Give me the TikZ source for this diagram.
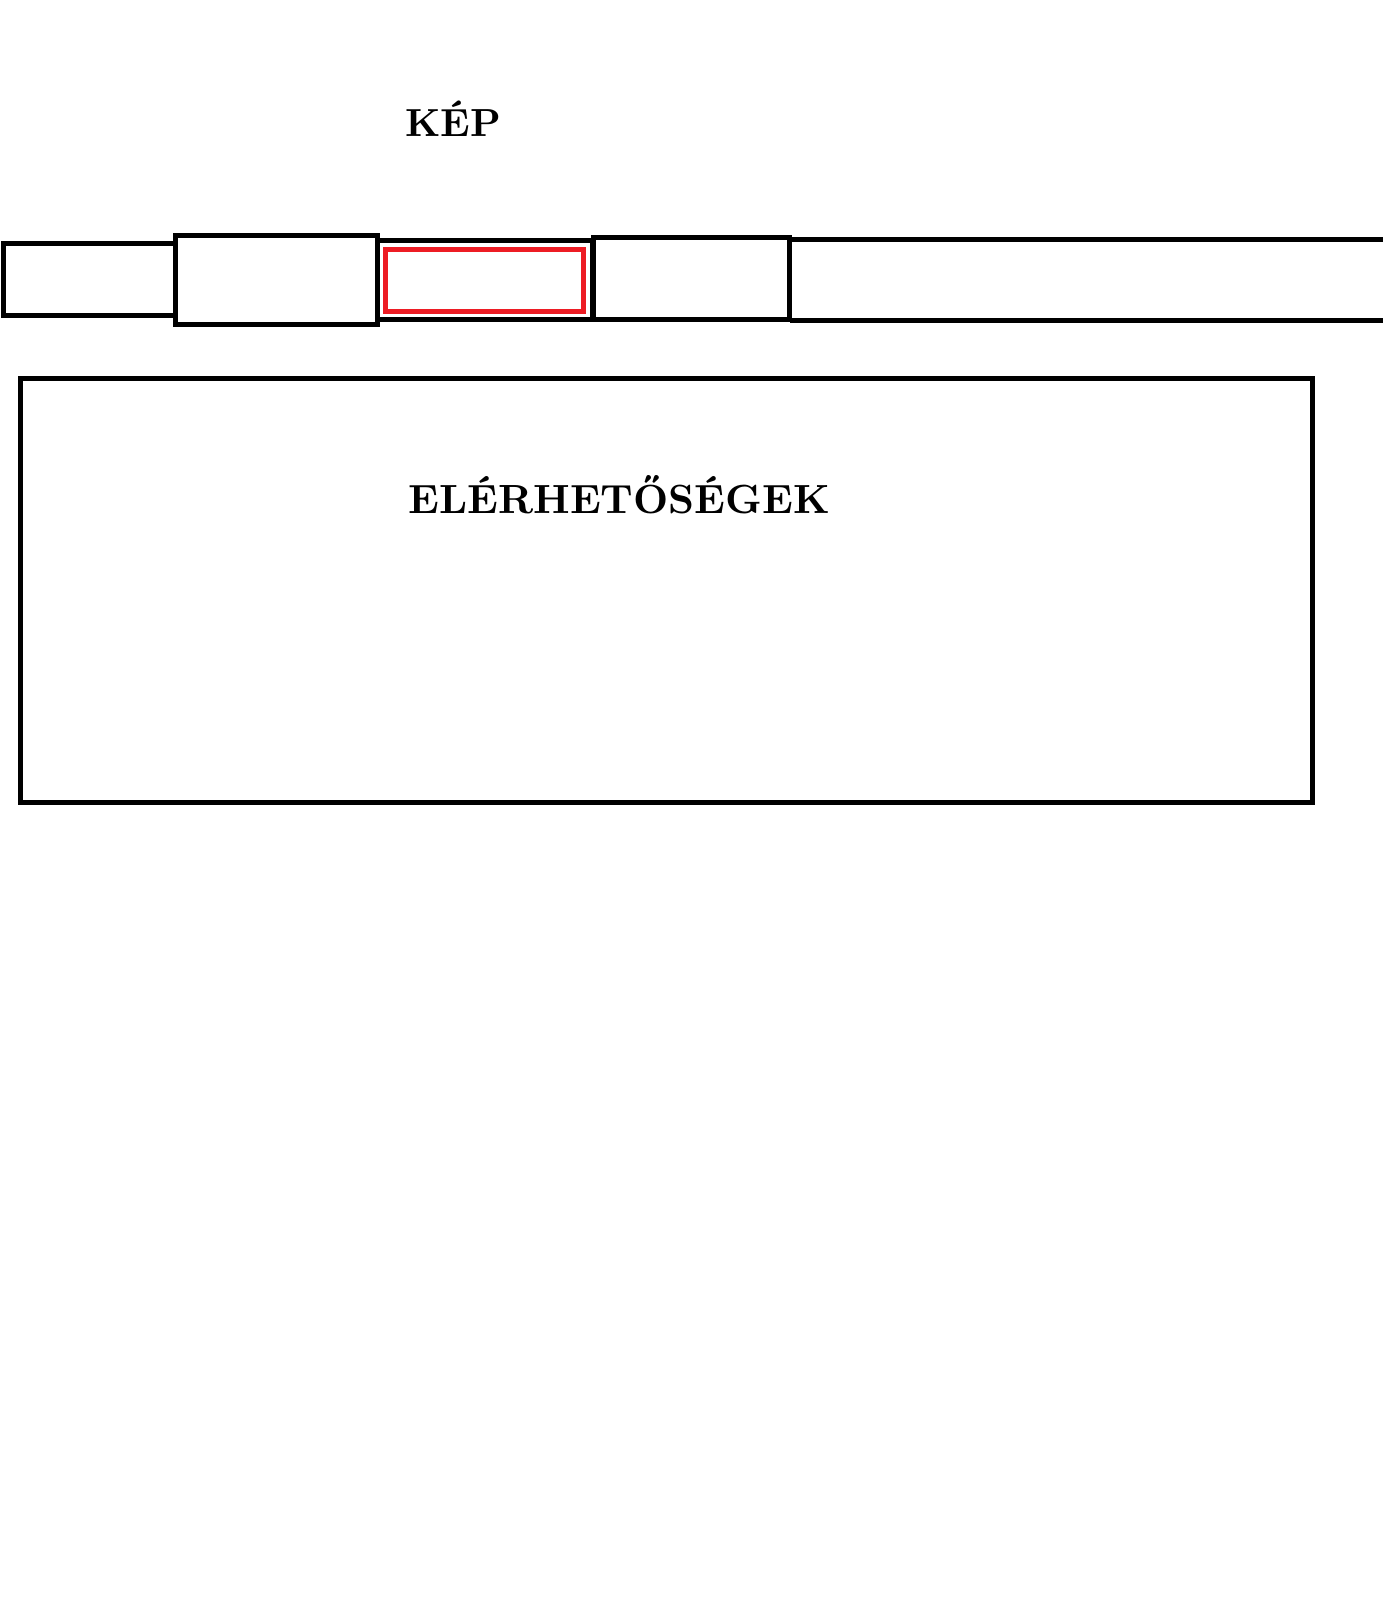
\documentclass[tikz,border=0pt]{standalone}
\usepackage{fontspec}
\usepackage{xcolor}
\usepackage{tikz}
\usetikzlibrary{positioning}
\newfontfamily\headfont{lmroman10-bold.otf}
\definecolor{redx}{HTML}{ED1C24}
\tikzset{
  frame/.style={draw=black,line width=2.85pt,inner sep=0pt,outer sep=0pt},
  rline/.style={black,line width=2.85pt},
  redbox/.style={draw=redx,line width=2.85pt,inner sep=0pt,outer sep=0pt},
  title/.style={inner sep=0pt,anchor=base west}
}

\begin{document}
\begin{tikzpicture}[x=0.02cm,y=-0.02cm]
\useasboundingbox (0,0) rectangle (1382,1608);
\node[title,font=\headfont\fontsize{22.3}{26}\selectfont] (kep) at (405,137) {KÉP};
% menu bar
\node[frame,minimum width=3.44cm,minimum height=1.45cm] (menua) at (89.5,279.25) {};
\node[frame,minimum width=4.04cm,minimum height=1.78cm] (menub) at (276.5,280) {};
\node[frame,minimum width=4.31cm,minimum height=1.6cm] (menuc) at (485.25,280) {};
\node[redbox,minimum width=3.96cm,minimum height=1.24cm] (active) at (484.5,280.5) {};
\node[frame,minimum width=3.93cm,minimum height=1.64cm] (menud) at (691.25,278.5) {};
\draw[rline] (789.5,239.5) -- (1390,239.5) (789.5,320.5) -- (1390,320.5);
% contact box
\node[frame,minimum width=25.84cm,minimum height=8.49cm] (contact) at (666.5,590.75) {};
\node[title,font=\headfont\fontsize{23.2}{27}\selectfont] (elerh) at (408,513) {ELÉRHETŐSÉGEK};
\end{tikzpicture}
\end{document}
